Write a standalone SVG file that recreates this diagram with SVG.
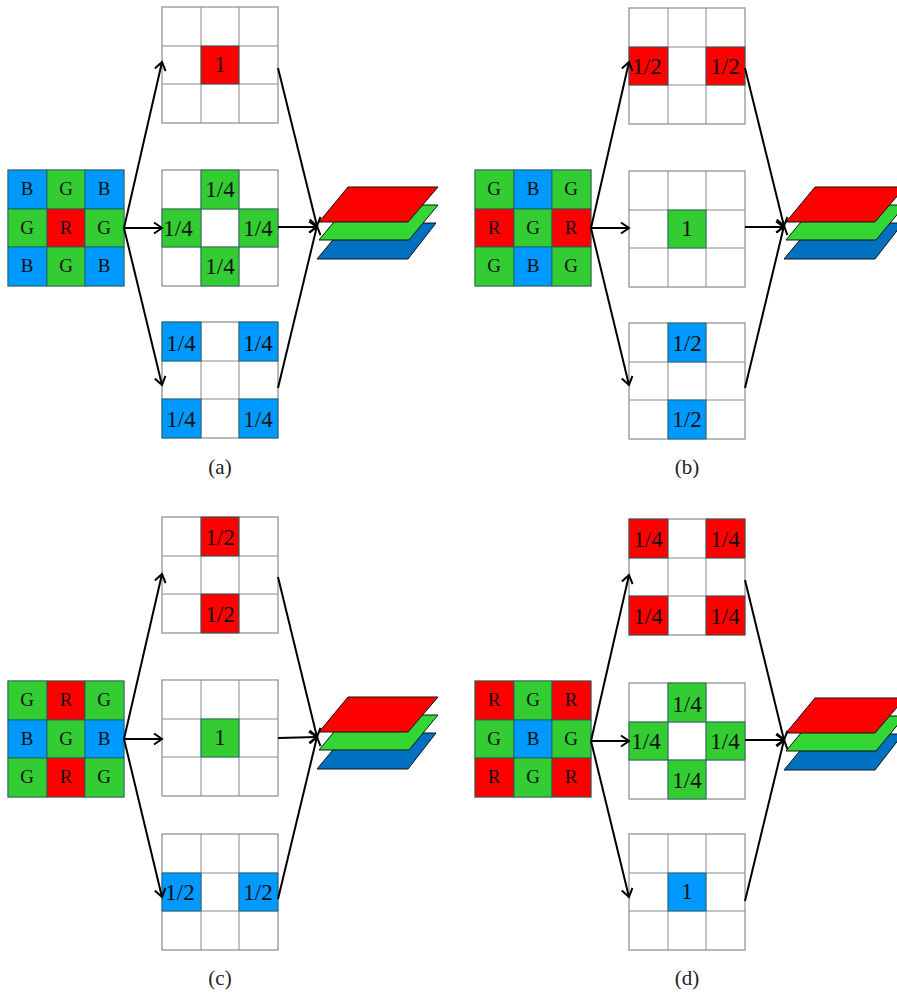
<svg xmlns="http://www.w3.org/2000/svg" width="897" height="994" viewBox="0 0 897 994">
<style>
text{font-family:"Liberation Serif",serif;fill:#111}
.l{font-size:19px;text-anchor:middle}
.f{font-size:23px;text-anchor:middle}
.c{font-size:21px;text-anchor:middle;fill:#222}
.R{fill:#ff0000}.G{fill:#33cc33}.B{fill:#0099ff}
.R,.G,.B{stroke:#1d5c5c;stroke-width:.8}
.gl{fill:#fff;stroke:#8a8a8a;stroke-width:1.2}
.ln{fill:none;stroke:#8a8a8a;stroke-width:1}
.cn line{stroke:#000;stroke-width:2;marker-end:url(#a)}
.p{stroke:#111;stroke-width:1}
</style>
<defs>
<marker id="a" markerUnits="userSpaceOnUse" markerWidth="14" markerHeight="14" refX="11" refY="7" orient="auto"><path d="M3,1.500 L11,7 L3,12.500" fill="none" stroke="#000" stroke-width="2"/></marker>
<g id="grid"><rect class="gl" width="116" height="116"/><path class="ln" d="M39,0V116M77,0V116M0,39H116M0,77H116"/></g>
<g id="stack">
<path class="p" fill="#0070c0" d="M347,223H436L408,259H317Z"/>
<path class="p" fill="#33d633" d="M348,205H438L409,240H319Z"/>
<path class="p" fill="#ff0000" d="M348,187H438L408,222H319Z"/>
</g>
</defs>

<g id="a-src" transform="translate(8,170)"><use href="#grid"/>
<rect class="B" x="0" y="0" width="39" height="39"/><rect class="G" x="39" y="0" width="38" height="39"/><rect class="B" x="77" y="0" width="39" height="39"/>
<rect class="G" x="0" y="39" width="39" height="38"/><rect class="R" x="39" y="39" width="38" height="38"/><rect class="G" x="77" y="39" width="39" height="38"/>
<rect class="B" x="0" y="77" width="39" height="39"/><rect class="G" x="39" y="77" width="38" height="39"/><rect class="B" x="77" y="77" width="39" height="39"/>
<text class="l" x="19" y="25">B</text><text class="l" x="58" y="25">G</text><text class="l" x="96" y="25">B</text>
<text class="l" x="19" y="64">G</text><text class="l" x="58" y="64">R</text><text class="l" x="96" y="64">G</text>
<text class="l" x="19" y="102">B</text><text class="l" x="58" y="102">G</text><text class="l" x="96" y="102">B</text></g>
<g id="a-r" transform="translate(162,7)"><use href="#grid"/><rect class="R" x="39" y="39" width="38" height="38"/><text class="f" x="58" y="65">1</text></g>
<g id="a-g" transform="translate(162,170)"><use href="#grid"/>
<rect class="G" x="39" y="0" width="38" height="39"/><rect class="G" x="0" y="39" width="39" height="38"/><rect class="G" x="77" y="39" width="39" height="38"/><rect class="G" x="39" y="77" width="38" height="39"/>
<text class="f" x="58" y="27">1/4</text><text class="f" x="16" y="66">1/4</text><text class="f" x="96" y="66">1/4</text><text class="f" x="58" y="104">1/4</text></g>
<g id="a-b" transform="translate(162,322)"><use href="#grid"/>
<rect class="B" x="0" y="0" width="39" height="39"/><rect class="B" x="77" y="0" width="39" height="39"/><rect class="B" x="0" y="77" width="39" height="39"/><rect class="B" x="77" y="77" width="39" height="39"/>
<text class="f" x="19" y="29">1/4</text><text class="f" x="96" y="29">1/4</text><text class="f" x="19" y="105">1/4</text><text class="f" x="96" y="105">1/4</text></g>
<g id="a-stack"><use href="#stack"/></g>
<text id="cap-a" class="c" x="220" y="474">(a)</text>

<g id="b-src" transform="translate(475,170)"><use href="#grid"/>
<rect class="G" x="0" y="0" width="39" height="39"/><rect class="B" x="39" y="0" width="38" height="39"/><rect class="G" x="77" y="0" width="39" height="39"/>
<rect class="R" x="0" y="39" width="39" height="38"/><rect class="G" x="39" y="39" width="38" height="38"/><rect class="R" x="77" y="39" width="39" height="38"/>
<rect class="G" x="0" y="77" width="39" height="39"/><rect class="B" x="39" y="77" width="38" height="39"/><rect class="G" x="77" y="77" width="39" height="39"/>
<text class="l" x="19" y="25">G</text><text class="l" x="58" y="25">B</text><text class="l" x="96" y="25">G</text>
<text class="l" x="19" y="64">R</text><text class="l" x="58" y="64">G</text><text class="l" x="96" y="64">R</text>
<text class="l" x="19" y="102">G</text><text class="l" x="58" y="102">B</text><text class="l" x="96" y="102">G</text></g>
<g id="b-r" transform="translate(629,8)"><use href="#grid"/><rect class="R" x="0" y="39" width="39" height="38"/><rect class="R" x="77" y="39" width="39" height="38"/>
<text class="f" x="18" y="66">1/2</text><text class="f" x="96" y="66">1/2</text></g>
<g id="b-g" transform="translate(629,171)"><use href="#grid"/><rect class="G" x="39" y="39" width="38" height="38"/><text class="f" x="58" y="65">1</text></g>
<g id="b-b" transform="translate(629,323)"><use href="#grid"/><rect class="B" x="39" y="0" width="38" height="39"/><rect class="B" x="39" y="77" width="38" height="39"/>
<text class="f" x="58" y="28">1/2</text><text class="f" x="58" y="104">1/2</text></g>
<g id="b-stack" transform="translate(467,0)"><use href="#stack"/></g>
<text id="cap-b" class="c" x="687" y="474">(b)</text>

<g id="c-src" transform="translate(8,681)"><use href="#grid"/>
<rect class="G" x="0" y="0" width="39" height="39"/><rect class="R" x="39" y="0" width="38" height="39"/><rect class="G" x="77" y="0" width="39" height="39"/>
<rect class="B" x="0" y="39" width="39" height="38"/><rect class="G" x="39" y="39" width="38" height="38"/><rect class="B" x="77" y="39" width="39" height="38"/>
<rect class="G" x="0" y="77" width="39" height="39"/><rect class="R" x="39" y="77" width="38" height="39"/><rect class="G" x="77" y="77" width="39" height="39"/>
<text class="l" x="19" y="25">G</text><text class="l" x="58" y="25">R</text><text class="l" x="96" y="25">G</text>
<text class="l" x="19" y="64">B</text><text class="l" x="58" y="64">G</text><text class="l" x="96" y="64">B</text>
<text class="l" x="19" y="102">G</text><text class="l" x="58" y="102">R</text><text class="l" x="96" y="102">G</text></g>
<g id="c-r" transform="translate(162,517)"><use href="#grid"/><rect class="R" x="39" y="0" width="38" height="39"/><rect class="R" x="39" y="77" width="38" height="39"/>
<text class="f" x="58" y="28">1/2</text><text class="f" x="58" y="105">1/2</text></g>
<g id="c-g" transform="translate(162,680)"><use href="#grid"/><rect class="G" x="39" y="39" width="38" height="38"/><text class="f" x="58" y="65">1</text></g>
<g id="c-b" transform="translate(162,834)"><use href="#grid"/><rect class="B" x="0" y="39" width="39" height="38"/><rect class="B" x="77" y="39" width="39" height="38"/>
<text class="f" x="18" y="66">1/2</text><text class="f" x="96" y="66">1/2</text></g>
<g id="c-stack" transform="translate(0,510)"><use href="#stack"/></g>
<text id="cap-c" class="c" x="220" y="985">(c)</text>

<g id="d-src" transform="translate(475,681)"><use href="#grid"/>
<rect class="R" x="0" y="0" width="39" height="39"/><rect class="G" x="39" y="0" width="38" height="39"/><rect class="R" x="77" y="0" width="39" height="39"/>
<rect class="G" x="0" y="39" width="39" height="38"/><rect class="B" x="39" y="39" width="38" height="38"/><rect class="G" x="77" y="39" width="39" height="38"/>
<rect class="R" x="0" y="77" width="39" height="39"/><rect class="G" x="39" y="77" width="38" height="39"/><rect class="R" x="77" y="77" width="39" height="39"/>
<text class="l" x="19" y="25">R</text><text class="l" x="58" y="25">G</text><text class="l" x="96" y="25">R</text>
<text class="l" x="19" y="64">G</text><text class="l" x="58" y="64">B</text><text class="l" x="96" y="64">G</text>
<text class="l" x="19" y="102">R</text><text class="l" x="58" y="102">G</text><text class="l" x="96" y="102">R</text></g>
<g id="d-r" transform="translate(629,519)"><use href="#grid"/>
<rect class="R" x="0" y="0" width="39" height="39"/><rect class="R" x="77" y="0" width="39" height="39"/><rect class="R" x="0" y="77" width="39" height="39"/><rect class="R" x="77" y="77" width="39" height="39"/>
<text class="f" x="19" y="28">1/4</text><text class="f" x="96" y="28">1/4</text><text class="f" x="19" y="105">1/4</text><text class="f" x="96" y="105">1/4</text></g>
<g id="d-g" transform="translate(629,683)"><use href="#grid"/>
<rect class="G" x="39" y="0" width="38" height="39"/><rect class="G" x="0" y="39" width="39" height="38"/><rect class="G" x="77" y="39" width="39" height="38"/><rect class="G" x="39" y="77" width="38" height="39"/>
<text class="f" x="58" y="29">1/4</text><text class="f" x="17" y="66">1/4</text><text class="f" x="96" y="66">1/4</text><text class="f" x="58" y="105">1/4</text></g>
<g id="d-b" transform="translate(629,834)"><use href="#grid"/><rect class="B" x="39" y="39" width="38" height="38"/><text class="f" x="58" y="65">1</text></g>
<g id="d-stack" transform="translate(467,511)"><use href="#stack"/></g>
<text id="cap-d" class="c" x="687" y="985">(d)</text>

<g id="connectors" class="cn">
<line x1="124" y1="228" x2="162" y2="62"/><line x1="124" y1="228" x2="162" y2="228"/><line x1="124" y1="228" x2="162" y2="385"/>
<line x1="278" y1="68" x2="317" y2="226"/><line x1="278" y1="227" x2="317" y2="227"/><line x1="278" y1="388" x2="317" y2="226"/>
<line x1="591" y1="228" x2="629" y2="62"/><line x1="591" y1="228" x2="629" y2="228"/><line x1="591" y1="228" x2="629" y2="385"/>
<line x1="745" y1="68" x2="784" y2="226"/><line x1="745" y1="227" x2="784" y2="227"/><line x1="745" y1="388" x2="784" y2="226"/>
<line x1="124" y1="739" x2="162" y2="574"/><line x1="124" y1="739" x2="162" y2="739"/><line x1="124" y1="739" x2="162" y2="897"/>
<line x1="278" y1="577" x2="317" y2="737"/><line x1="278" y1="738" x2="317" y2="737"/><line x1="278" y1="899" x2="317" y2="737"/>
<line x1="591" y1="741" x2="629" y2="575"/><line x1="591" y1="741" x2="629" y2="741"/><line x1="591" y1="741" x2="629" y2="897"/>
<line x1="745" y1="580" x2="784" y2="740"/><line x1="745" y1="740" x2="784" y2="740"/><line x1="745" y1="901" x2="784" y2="740"/>
</g>
</svg>
